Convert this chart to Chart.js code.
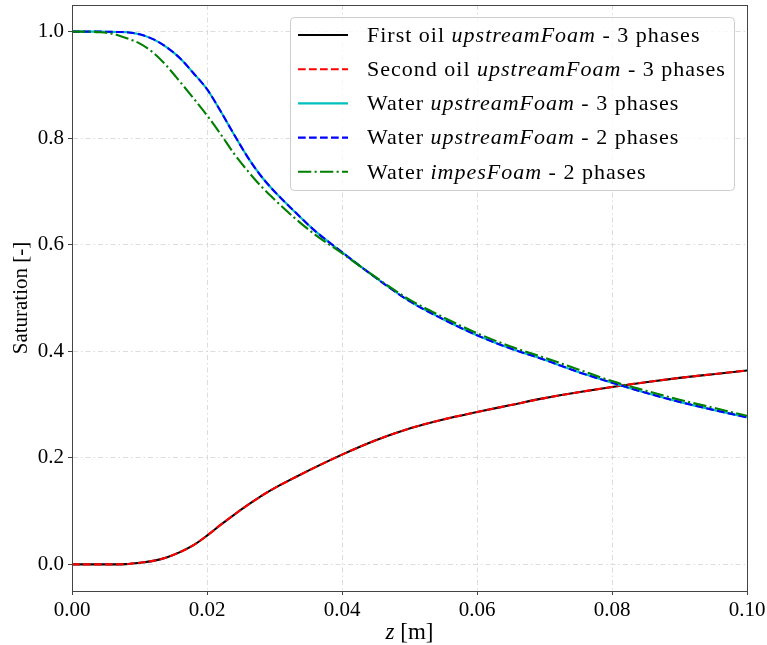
<!DOCTYPE html>
<html>
<head>
<meta charset="utf-8">
<script src="https://cdn.jsdelivr.net/npm/chart.js@4"></script>
<style>
  body { margin: 0; background: #fff; }
  canvas { display: block; }
</style>
</head>
<body>
<canvas id="lienzo" width="767" height="645"></canvas>
<script>
// Posiciones a lo largo de la columna [m]
const zVals = [0, 0.002, 0.004, 0.006, 0.008, 0.010, 0.012, 0.014, 0.016, 0.018,
  0.020, 0.022, 0.024, 0.026, 0.028, 0.030, 0.033, 0.036, 0.040, 0.045,
  0.050, 0.055, 0.060, 0.065, 0.070, 0.075, 0.080, 0.085, 0.090, 0.095, 0.100];

// Saturaciones de cada fase
const oilFirst = [0, 0, 0, 0, 0.0005, 0.003, 0.0065, 0.013, 0.023, 0.036,
  0.054, 0.074, 0.093, 0.111, 0.128, 0.143, 0.163, 0.182, 0.206, 0.233,
  0.255, 0.272, 0.286, 0.299, 0.312, 0.323, 0.333, 0.342, 0.350, 0.357, 0.364];
const oilSecond = [0, 0, 0, 0, 0.0005, 0.003, 0.0065, 0.013, 0.023, 0.036,
  0.054, 0.074, 0.093, 0.111, 0.128, 0.143, 0.163, 0.182, 0.206, 0.233,
  0.255, 0.272, 0.286, 0.299, 0.312, 0.323, 0.333, 0.342, 0.350, 0.357, 0.364];
const waterUp3 = [1, 1, 1, 0.9995, 0.999, 0.995, 0.986, 0.971, 0.950, 0.922,
  0.892, 0.851, 0.807, 0.765, 0.729, 0.700, 0.662, 0.626, 0.586, 0.538,
  0.494, 0.460, 0.430, 0.405, 0.384, 0.361, 0.341, 0.322, 0.305, 0.290, 0.276];
const waterUp2 = [1, 1, 1, 0.9995, 0.999, 0.995, 0.986, 0.971, 0.950, 0.922,
  0.892, 0.851, 0.807, 0.765, 0.729, 0.700, 0.662, 0.626, 0.586, 0.538,
  0.494, 0.460, 0.430, 0.405, 0.384, 0.361, 0.341, 0.322, 0.305, 0.290, 0.276];
const waterImpes = [1, 1, 0.999, 0.996, 0.988, 0.978, 0.961, 0.936, 0.906, 0.875,
  0.843, 0.808, 0.771, 0.739, 0.710, 0.685, 0.650, 0.619, 0.584, 0.539,
  0.497, 0.464, 0.434, 0.409, 0.388, 0.366, 0.344, 0.326, 0.309, 0.294, 0.279];

const xTicks = [0, 0.02, 0.04, 0.06, 0.08, 0.10];
const yTicks = [0, 0.2, 0.4, 0.6, 0.8, 1.0];

// Texto de la leyenda: [normal, cursiva, normal]
const legendText = [
  ['First oil ', 'upstreamFoam', ' - 3 phases'],
  ['Second oil ', 'upstreamFoam', ' - 3 phases'],
  ['Water ', 'upstreamFoam', ' - 3 phases'],
  ['Water ', 'upstreamFoam', ' - 2 phases'],
  ['Water ', 'impesFoam', ' - 2 phases']
];

const serif = '"Liberation Serif", "DejaVu Serif", serif';
const dashed = [7.7, 3.3];
const dashDot = [13.3, 3.3, 2.1, 3.3];

function puntos(vals) {
  return zVals.map((z, i) => ({ x: z, y: vals[i] }));
}

function serie(label, vals, color, dash, orden) {
  return {
    label: label,
    data: puntos(vals),
    borderColor: color,
    backgroundColor: color,
    borderWidth: 2.1,
    borderDash: dash,
    pointRadius: 0,
    cubicInterpolationMode: 'monotone',
    order: orden
  };
}

const datasets = [
  serie('First oil', oilFirst, '#000000', [], 5),
  serie('Second oil', oilSecond, '#ff0000', dashed, 4),
  serie('Water upstream 3', waterUp3, '#00bfbf', [], 3),
  serie('Water upstream 2', waterUp2, '#0000ff', dashed, 2),
  serie('Water impes 2', waterImpes, '#008000', dashDot, 1)
];

// Marco, leyenda y título del eje x (con cursiva)
const extras = {
  id: 'extras',
  afterDraw(chart) {
    const c = chart.ctx;
    const a = chart.chartArea;
    c.save();
    c.strokeStyle = '#444';
    c.lineWidth = 1;
    c.setLineDash([]);
    c.strokeRect(Math.round(a.left) + 0.5, Math.round(a.top) + 0.5,
      Math.round(a.right - a.left), Math.round(a.bottom - a.top));

    // título eje x
    c.fillStyle = '#000';
    c.textBaseline = 'middle';
    c.font = 'italic 23px ' + serif;
    const wz = c.measureText('z').width;
    c.font = '23px ' + serif;
    const wr = c.measureText(' [m]').width;
    let tx = (a.left + a.right) / 2 - (wz + wr) / 2;
    c.font = 'italic 23px ' + serif;
    c.fillText('z', tx, 633);
    c.font = '23px ' + serif;
    c.fillText(' [m]', tx + wz, 633);

    // leyenda
    const bx = 290, by = 17, bw = 444, bh = 173;
    c.beginPath();
    c.roundRect(bx + 0.5, by + 0.5, bw, bh, 4);
    c.fillStyle = 'rgba(255,255,255,0.8)';
    c.fill();
    c.strokeStyle = '#cccccc';
    c.lineWidth = 1;
    c.stroke();

    const rowH = 34.2;
    datasets.forEach((ds, i) => {
      const y = 35 + i * rowH;
      c.beginPath();
      c.strokeStyle = ds.borderColor;
      c.lineWidth = ds.borderWidth;
      c.setLineDash(ds.borderDash);
      c.moveTo(298, y);
      c.lineTo(348, y);
      c.stroke();
      c.setLineDash([]);

      const partes = legendText[i];
      let x = 367;
      c.fillStyle = '#000';
      c.textBaseline = 'middle';
      c.letterSpacing = '1px';
      partes.forEach((txt, k) => {
        c.font = (k === 1 ? 'italic ' : '') + '22px ' + serif;
        c.fillText(txt, x, y + 1);
        x += c.measureText(txt).width;
      });
      c.letterSpacing = '0px';
    });
    c.restore();
  }
};

const ctx = document.getElementById('lienzo').getContext('2d');
const myChart = new Chart(ctx, {
  type: 'line',
  data: { datasets: datasets },
  options: {
    responsive: false,
    animation: false,
    layout: { padding: { left: 0, top: 5, right: 20, bottom: 0 } },
    plugins: { legend: { display: false }, tooltip: { enabled: false } },
    scales: {
      x: {
        type: 'linear',
        min: 0,
        max: 0.1,
        afterBuildTicks: s => { s.ticks = xTicks.map(v => ({ value: v })); },
        afterFit: s => { s.height = 54; s.paddingLeft = 0; s.paddingRight = 0; },
        ticks: {
          color: '#000',
          font: { family: serif, size: 21 },
          padding: 3,
          maxRotation: 0,
          autoSkip: false,
          callback: v => v.toFixed(2)
        },
        grid: { color: '#d3d3d3', lineWidth: 0.8, tickLength: 4, tickColor: '#444', tickWidth: 1 },
        border: { display: true, color: '#444', dash: [5, 3, 1.5, 3] }
      },
      y: {
        min: -0.05,
        max: 1.05,
        afterBuildTicks: s => { s.ticks = yTicks.map(v => ({ value: v })); },
        afterFit: s => { s.width = 72; s.paddingTop = 0; s.paddingBottom = 0; },
        title: {
          display: true,
          text: 'Saturation [-]',
          color: '#000',
          font: { family: serif, size: 21 },
          padding: { top: 9, bottom: 0 }
        },
        ticks: {
          color: '#000',
          font: { family: serif, size: 21 },
          padding: 4,
          autoSkip: false,
          callback: v => v.toFixed(1)
        },
        grid: { color: '#d3d3d3', lineWidth: 0.8, tickLength: 4, tickColor: '#444', tickWidth: 1 },
        border: { display: true, color: '#444', dash: [5, 3, 1.5, 3] }
      }
    }
  },
  plugins: [extras]
});
</script>
</body>
</html>
